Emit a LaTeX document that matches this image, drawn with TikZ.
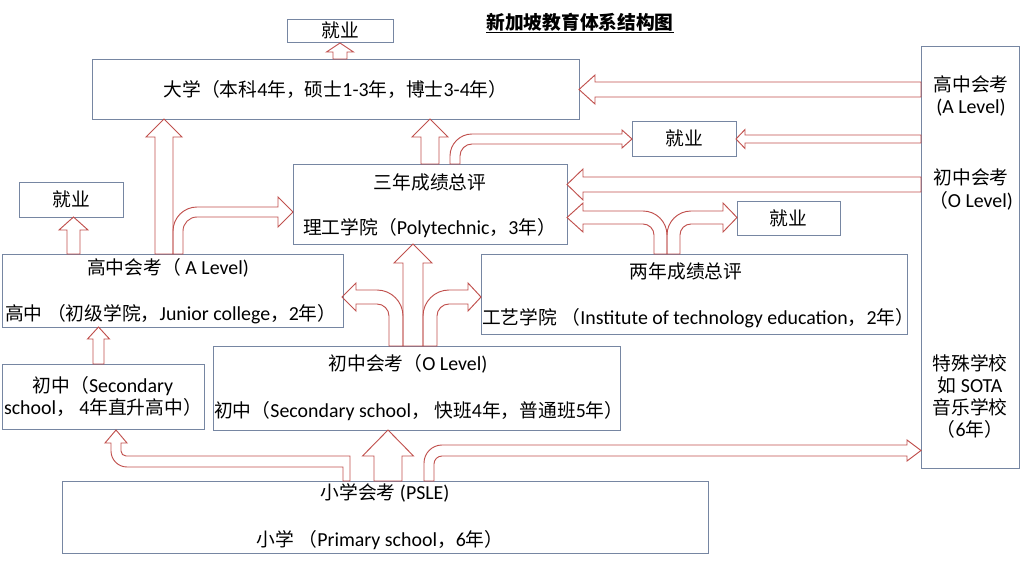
\documentclass[tikz,border=0pt]{standalone}
\usepackage{fontspec}
\setmainfont[Scale=1.06]{Carlito}
\newfontfamily\cjkfont{Noto Sans CJK SC}
% Chinese characters are set in the CJK font
\XeTeXinterchartokenstate=1
\newXeTeXintercharclass\cjkclass
\count255="4E00
\loop\XeTeXcharclass\count255=\cjkclass
  \ifnum\count255<"9FFF \advance\count255 by 1 \repeat
\count255="3000
\loop\XeTeXcharclass\count255=\cjkclass
  \ifnum\count255<"303F \advance\count255 by 1 \repeat
\count255="FF00
\loop\XeTeXcharclass\count255=\cjkclass
  \ifnum\count255<"FFEF \advance\count255 by 1 \repeat
\XeTeXinterchartoks 0 \cjkclass = {\cjkfont}
\XeTeXinterchartoks 4095 \cjkclass = {\cjkfont}
\XeTeXinterchartoks \cjkclass 0 = {\rmfamily}
\XeTeXinterchartoks \cjkclass 4095 = {\rmfamily}
\usepackage{tikz}
\definecolor{boxc}{RGB}{118,134,162}
\definecolor{arrc}{RGB}{192,80,77}
\tikzstyle{box} = [draw=boxc, line width=0.8pt, inner sep=0pt]
\tikzstyle{txt} = [inner sep=0pt]
\tikzstyle{blk} = [draw=arrc, line width=0.8pt]
% block arrows: x, y of tail, y of tip, half stem, half head, head length
\newcommand{\blockup}[6]{\draw[blk] (#1-#4,#2) -- (#1-#4,#3+#6) -- (#1-#5,#3+#6)
  -- (#1,#3) -- (#1+#5,#3+#6) -- (#1+#4,#3+#6) -- (#1+#4,#2) -- cycle;}
% y, x of tail, x of tip, half stem, half head, head length
\newcommand{\blockleft}[6]{\draw[blk] (#2,#1-#4) -- (#3+#6,#1-#4) -- (#3+#6,#1-#5)
  -- (#3,#1) -- (#3+#6,#1+#5) -- (#3+#6,#1+#4) -- (#2,#1+#4) -- cycle;}

\begin{document}
\begin{tikzpicture}[x=0.03cm, y=-0.03cm, font=\fontsize{16}{18.8}\selectfont]
    \useasboundingbox (0,0) rectangle (1024,565);
    \node [font=\fontsize{16}{18.8}\selectfont\bfseries] (title) at (580,23) {\underline{新加坡教育体系结构图}};
    % We start by placing the boxes
    \node [box, minimum width=3.18cm, minimum height=0.69cm] (jyTop) at (340,30.5) {就业};
    \node [box, minimum width=14.61cm, minimum height=1.8cm] (dx) at (335.5,89) {大学（本科4年，硕士1-3年，博士3-4年）};
    \node [box, minimum width=2.94cm, minimum height=12.66cm] (rt) at (970,257) {};
    \node [box, minimum width=3.12cm, minimum height=1.05cm] (jyMid) at (684,138.5) {就业};
    \node [box, minimum width=8.22cm, minimum height=2.4cm] (sn) at (430,204) {};
    \node [box, minimum width=3.12cm, minimum height=1.05cm] (jyLeft) at (71,199.5) {就业};
    \node [box, minimum width=3.09cm, minimum height=1.02cm] (jyRight) at (788.5,218) {就业};
    \node [box, minimum width=10.23cm, minimum height=2.19cm] (gz) at (172.5,290.5) {};
    \node [box, minimum width=12.78cm, minimum height=2.4cm] (ly) at (694,294) {};
    \node [box, minimum width=6.06cm, minimum height=1.95cm, align=center] (czL) at (103,396.5) {初中（Secondary\\school， 4年直升高中）};
    \node [box, minimum width=12.21cm, minimum height=2.52cm] (czM) at (416.5,388) {};
    \node [box, minimum width=19.38cm, minimum height=2.16cm] (xx) at (385,517) {};
    % texts in the boxes
    \node [txt, align=center] (rtA) at (971,96) {高中会考\\(A Level)};
    \node [txt, align=center] (rtO) at (971,189.5) {初中会考\\（O Level)};
    \node [txt, align=center] (rtS) at (970,396) {特殊学校\\如 SOTA\\音乐学校\\（6年）};
    \node [txt] (snT) at (430,182) {三年成绩总评};
    \node [txt, anchor=west] (snB) at (303,228) {理工学院（Polytechnic，3年）};
    \node [txt] (gzT) at (168,268) {高中会考（ A Level)};
    \node [txt, anchor=west] (gzB) at (5,314) {高中 （初级学院，Junior college，2年）};
    \node [txt] (lyT) at (686,271) {两年成绩总评};
    \node [txt, anchor=west] (lyB) at (482,318) {工艺学院 （Institute of technology education，2年）};
    \node [txt] (czMT) at (408,364) {初中会考（O Level)};
    \node [txt, anchor=west] (czMB) at (214,411) {初中（Secondary school， 快班4年，普通班5年）};
    \node [txt] (xxT) at (385,493) {小学会考 (PSLE)};
    \node [txt] (xxB) at (380,540) {小学 （Primary school，6年）};
    % straight block arrows
    \blockup{340}{59}{43}{7}{13.5}{9}
    \blockup{164}{254}{119}{9}{18}{18}
    \blockup{430}{164}{119}{9}{18}{18}
    \blockup{73.5}{254}{217}{6.5}{14.5}{13}
    \blockup{413}{346}{244}{10}{19}{19}
    \blockup{98.5}{364}{327}{5.5}{11}{12}
    \blockup{388}{481}{430}{14}{25.5}{26}
    \blockleft{89.5}{921}{579}{7.5}{14.5}{16}
    \blockleft{139}{921}{736}{4}{9.5}{9}
    \blockleft{184.5}{921}{567}{7.5}{15.5}{16}
    % bent block arrows
    \draw [blk] (173,254) -- (173,231) .. controls (173,217.8) and (183.8,207) .. (197,207) -- (278,207)
      -- (278,197) -- (293,212) -- (278,227) -- (278,217) -- (197,217)
      .. controls (189.3,217) and (183,223.3) .. (183,231) -- (183,254) -- cycle;
    \draw [blk] (450,164) -- (450,156) .. controls (450,143.9) and (459.9,134) .. (472,134) -- (622,134)
      -- (622,130) -- (632,139) -- (622,148) -- (622,144) -- (472,144)
      .. controls (465.4,144) and (460,149.4) .. (460,156) -- (460,164) -- cycle;
    \draw [blk] (667,254) -- (667,235) .. controls (667,221.8) and (656.2,211) .. (643,211) -- (583,211)
      -- (583,203) -- (567,217.5) -- (583,232) -- (583,224) -- (643,224)
      .. controls (649.05,224) and (654,228.95) .. (654,235) -- (654,254) -- cycle;
    \draw [blk] (667,254) -- (667,235) .. controls (667,221.8) and (677.8,211) .. (691,211) -- (723,211)
      -- (723,203) -- (737,217.5) -- (723,232) -- (723,224) -- (691,224)
      .. controls (684.95,224) and (680,228.95) .. (680,235) -- (680,254) -- cycle;
    \draw [blk] (403,346) -- (403,316) .. controls (403,301.7) and (391.3,290) .. (377,290) -- (356,290)
      -- (356,283) -- (342,297) -- (356,311) -- (356,304) -- (377,304)
      .. controls (383.6,304) and (389,309.4) .. (389,316) -- (389,346) -- cycle;
    \draw [blk] (423,346) -- (423,316) .. controls (423,301.7) and (434.7,290) .. (449,290) -- (468,290)
      -- (468,283) -- (481,297) -- (468,311) -- (468,304) -- (449,304)
      .. controls (442.4,304) and (437,309.4) .. (437,316) -- (437,346) -- cycle;
    \draw [blk] (350,481) -- (350,456) -- (126,456) .. controls (123.25,456) and (121,453.75) .. (121,451)
      -- (121,443) -- (127,443) -- (116,430) -- (105,443) -- (111,443) -- (111,451)
      .. controls (111,459.8) and (118.2,467) .. (127,467) -- (343,467) -- (343,481) -- cycle;
    \draw [blk] (424,481) -- (424,463) .. controls (424,453.1) and (432.1,445) .. (442,445) -- (907,445)
      -- (907,440) -- (921,450.5) -- (907,461) -- (907,456) -- (442,456)
      .. controls (437.6,456) and (434,459.6) .. (434,464) -- (434,481) -- cycle;
\end{tikzpicture}
\end{document}
